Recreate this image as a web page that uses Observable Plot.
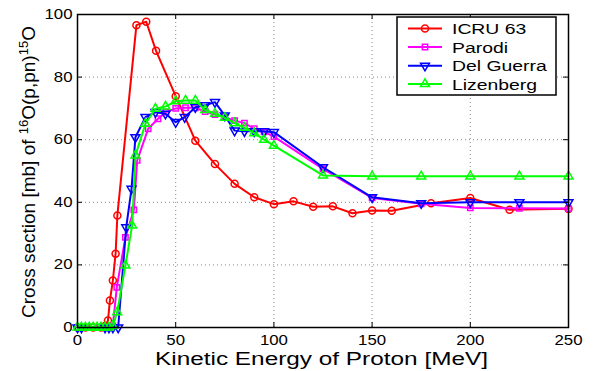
<!DOCTYPE html>
<html>
<head>
<meta charset="utf-8">
<script src="https://cdn.jsdelivr.net/npm/d3@7"></script>
<script src="https://cdn.jsdelivr.net/npm/@observablehq/plot@0.6"></script>
<style>
  html, body { margin: 0; padding: 0; background: #fff; }
  #chart { width: 593px; height: 371px; }
</style>
</head>
<body>
<div id="chart"></div>
<script>
// ---- data ----
const xTicks = [0, 50, 100, 150, 200, 250];
const yTicks = [0, 20, 40, 60, 80, 100];

const seriesNames = ["ICRU 63", "Parodi", "Del Guerra", "Lizenberg"];

const icruE = [0, 4, 8, 12, 14, 15.5, 16.5, 18, 19.4, 20.3, 30, 35, 40, 50, 60, 70, 80, 90, 100, 110, 120, 130, 140, 150, 160, 180, 200, 220, 250];
const icruV = [0, 0, 0, 0, 0.5, 2.2, 8.6, 15, 23.6, 35.8, 96.6, 97.7, 88.4, 73.9, 59.7, 52.2, 45.9, 41.6, 39.4, 40.3, 38.6, 38.7, 36.5, 37.4, 37.3, 39.7, 41.4, 37.6, 37.9];

const parodiE = [0, 5, 10, 15, 18, 20, 24.4, 28.7, 30.4, 36, 41, 45, 50, 55, 60, 65, 70, 75, 80, 85, 90, 95, 100, 125, 150, 175, 200, 225, 250];
const parodiV = [0, 0, 0, 0, 0.5, 12.8, 28.8, 37.6, 53.4, 63.5, 66.7, 68.8, 70, 70.2, 70.2, 69, 68, 67.2, 66.1, 65.3, 63.5, 62.5, 61, 50.7, 41.4, 39.5, 38.2, 38.1, 38];

const delGuerraE = [0, 2, 14, 16, 18, 20.7, 24.8, 27.5, 29.5, 34.6, 39.7, 44.8, 50, 54.6, 60, 65, 70, 75, 80, 85, 90, 95, 100, 125, 150, 175, 200, 225, 250];
const delGuerraV = [0, 0, 0, 0, 0, 0, 32, 44.3, 60.8, 67.2, 68.8, 68.3, 65.6, 67.2, 70.4, 71, 72, 67.7, 62.9, 62.7, 62.7, 62.7, 62.4, 51.2, 41.6, 39.7, 40, 40, 40];

const lizenbergE = [0, 2, 4, 6, 8, 10, 12, 14, 16, 18, 20.2, 24.4, 27.8, 29.5, 34.6, 39.7, 44.8, 50, 55, 60, 65, 70, 75, 80, 85, 90, 95, 100, 125, 150, 175, 200, 225, 250];
const lizenbergV = [0, 0, 0, 0, 0, 0, 0, 0, 0, 0.5, 4.9, 19.8, 32.6, 55, 65.1, 69.9, 70.6, 72.3, 72.5, 72.5, 69.5, 68.3, 67, 65.3, 63.8, 62.1, 60, 58.1, 48.6, 48.3, 48.3, 48.3, 48.3, 48.3];

// ---- build tables ----
const toRows = (E, V) => E.map((e, i) => ({E: e, V: V[i]}));
const styles = [
  {color: "#ff0000", symbol: "circle", rotate: 0, r: 3.5},
  {color: "#ff00ff", symbol: "square", rotate: 0, r: 3},
  {color: "#0000ff", symbol: "triangle", rotate: 180, r: 3.3},
  {color: "#00ff00", symbol: "triangle", rotate: 0, r: 3.3}
];
const series = [toRows(icruE, icruV), toRows(parodiE, parodiV), toRows(delGuerraE, delGuerraV), toRows(lizenbergE, lizenbergV)];

const W = 593, H = 371, mL = 77, mR = 25, mT = 14, mB = 44;
const innerW = W - mL - mR, innerH = H - mT - mB;

const marks = [
  Plot.gridX(xTicks.slice(1, -1), {stroke: "#888", strokeOpacity: 1, strokeDasharray: "1,3"}),
  Plot.gridY(yTicks.slice(1, -1), {stroke: "#888", strokeOpacity: 1, strokeDasharray: "1,3"}),
];
series.forEach((rows, i) => {
  const s = styles[i];
  marks.push(Plot.line(rows, {x: "E", y: "V", stroke: s.color, strokeWidth: 2}));
  marks.push(Plot.dot(rows, {x: "E", y: "V", stroke: s.color, fill: "none", strokeWidth: 1.5, symbol: s.symbol, r: s.r, rotate: s.rotate}));
});
marks.push(
  Plot.tickX(xTicks, {x: d => d, insetTop: innerH - 5, stroke: "black"}),
  Plot.tickX(xTicks, {x: d => d, insetBottom: innerH - 5, stroke: "black"}),
  Plot.tickY(yTicks, {y: d => d, insetRight: innerW - 5, stroke: "black"}),
  Plot.tickY(yTicks, {y: d => d, insetLeft: innerW - 5, stroke: "black"}),
  Plot.frame({stroke: "black", strokeWidth: 1.5}),
  Plot.axisX(xTicks, {tickSize: 0, tickPadding: 8, fontSize: 14, label: null}),
  Plot.axisY(yTicks, {tickSize: 0, tickPadding: 5, fontSize: 14, label: null})
);

const svg = Plot.plot({
  width: W, height: H,
  marginLeft: mL, marginRight: mR, marginTop: mT, marginBottom: mB,
  x: {domain: [0, 250]},
  y: {domain: [0, 100]},
  style: {fontFamily: "'Liberation Sans', Arial, sans-serif", color: "black", background: "white"},
  marks
});
document.getElementById("chart").appendChild(svg);

const sel = d3.select(svg);
// horizontal stretch of tick labels, as in the reference
sel.selectAll("g[aria-label='x-axis tick label'] text, g[aria-label='y-axis tick label'] text")
  .attr("transform", function () { return (this.getAttribute("transform") || "") + " scale(1.2,1)"; });

// x label
sel.append("text")
  .attr("x", 321.5).attr("y", 365)
  .attr("text-anchor", "middle")
  .attr("font-size", 18)
  .attr("textLength", 333).attr("lengthAdjust", "spacingAndGlyphs")
  .attr("fill", "black")
  .text("Kinetic Energy of Proton [MeV]");

// y label with superscripts
const yl = sel.append("text")
  .attr("transform", "translate(35,172) rotate(-90)")
  .attr("text-anchor", "middle")
  .attr("font-size", 19)
  .attr("fill", "black");
yl.append("tspan").text("Cross section [mb] of ");
yl.append("tspan").attr("dy", -7).attr("font-size", 13).text("16");
yl.append("tspan").attr("dy", 7).text("O(p,pn)");
yl.append("tspan").attr("dy", -7).attr("font-size", 13).text("15");
yl.append("tspan").attr("dy", 7).text("O");

// legend
const lg = sel.append("g").attr("text-anchor", "start");
lg.append("rect").attr("x", 397).attr("y", 17).attr("width", 159).attr("height", 78)
  .attr("fill", "white").attr("stroke", "black").attr("stroke-width", 1.5);
const rowsY = [28.5, 47, 65.7, 84];
const symMap = {circle: d3.symbolCircle, square: d3.symbolSquare, triangle: d3.symbolTriangle};
seriesNames.forEach((name, i) => {
  const s = styles[i], y = rowsY[i];
  lg.append("line").attr("x1", 408).attr("x2", 442).attr("y1", y).attr("y2", y)
    .attr("stroke", s.color).attr("stroke-width", 2);
  lg.append("path")
    .attr("d", d3.symbol().type(symMap[s.symbol]).size(Math.PI * s.r * s.r)())
    .attr("transform", `translate(425,${y}) rotate(${s.rotate})`)
    .attr("fill", "none").attr("stroke", s.color).attr("stroke-width", 1.5);
  lg.append("text")
    .attr("transform", `translate(452,${y}) scale(1.25,1)`)
    .attr("text-anchor", "start")
    .attr("dy", "0.36em")
    .attr("font-size", 15.5).attr("fill", "black")
    .text(name);
});
</script>
</body>
</html>
